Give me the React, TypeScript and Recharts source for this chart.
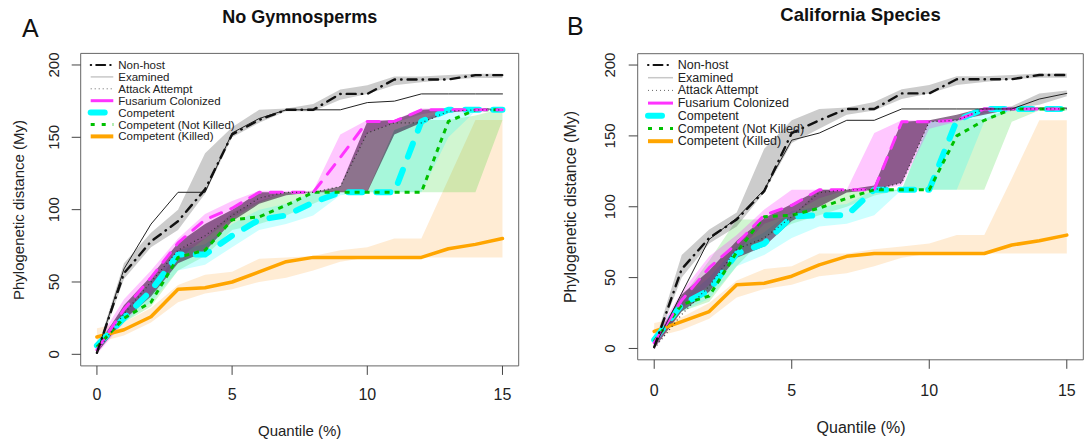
import { ComposedChart, Line, Area, XAxis, YAxis, ReferenceArea } from "recharts";

// ── Data ─────────────────────────────────────────────────────────────────────

const quantiles = [0, 1, 2, 3, 4, 5, 6, 7, 8, 9, 10, 11, 12, 13, 14, 15];
const xTicks = [0, 5, 10, 15];
const yTicks = [0, 50, 100, 150, 200];

const legendLabels = [
  "Non-host",
  "Examined",
  "Attack Attempt",
  "Fusarium Colonized",
  "Competent",
  "Competent (Not Killed)",
  "Competent (Killed)",
];

// Panel A — No Gymnosperms
const nonHostA = [1, 56, 78, 92, 114, 152, 162, 169, 169, 180, 180, 190, 190, 190, 193, 193];
const examinedA = [1, 59, 90, 112, 112, 153, 163, 169, 169, 169, 174, 175, 180, 180, 180, 180];
const attackA = [2, 28, 50, 72, 82, 96, 108, 112, 112, 116, 153, 160, 160, 168, 169, 169];
const fusariumA = [3, 31, 53, 77, 93, 101, 112, 112, 112, 136, 161, 161, 169, 169, 169, 169];
const competentA = [6, 25, 44, 69, 69, 82, 93, 96, 105, 112, 112, 112, 161, 169, 169, 169];
const notKilledA = [5, 25, 36, 67, 72, 93, 95, 103, 112, 112, 112, 112, 112, 161, 169, 169];
const killedA = [12, 17, 26, 45, 46, 50, 57, 64, 67, 67, 67, 67, 67, 73, 76, 80];

const nonHostLoA = [0, 52, 74, 86, 111, 150, 160, 168, 168, 176, 180, 186, 188, 190, 191, 191];
const nonHostHiA = [3, 63, 84, 100, 139, 157, 169, 170, 173, 183, 186, 192, 192, 193, 194, 194];
const examinedLoA = [1, 59, 90, 112, 112, 153, 163, 169, 169, 169, 174, 175, 180, 180, 180, 180];
const examinedHiA = [1, 59, 90, 112, 112, 153, 163, 169, 169, 169, 174, 175, 180, 180, 180, 180];
const attackLoA = [1, 24, 40, 63, 71, 92, 104, 110, 112, 112, 112, 152, 160, 167, 169, 169];
const attackHiA = [5, 34, 54, 77, 90, 100, 112, 112, 112, 116, 161, 162, 169, 170, 170, 170];
const fusariumLoA = [0, 22, 42, 66, 80, 94, 105, 112, 112, 116, 153, 160, 166, 169, 169, 169];
const fusariumHiA = [8, 38, 58, 80, 97, 106, 113, 113, 113, 152, 162, 162, 170, 170, 170, 170];
const competentLoA = [3, 22, 36, 58, 62, 74, 86, 90, 96, 110, 112, 112, 112, 150, 168, 168];
const competentHiA = [9, 30, 50, 72, 76, 90, 100, 104, 112, 112, 112, 155, 162, 170, 170, 170];
const notKilledLoA = [3, 22, 33, 58, 68, 86, 90, 96, 104, 112, 112, 112, 112, 112, 112, 162];
const notKilledHiA = [8, 30, 42, 72, 80, 98, 106, 112, 113, 113, 113, 155, 162, 162, 165, 170];
const killedLoA = [8, 13, 22, 36, 42, 45, 50, 53, 58, 64, 67, 67, 67, 67, 67, 67];
const killedHiA = [18, 22, 32, 48, 55, 57, 66, 67, 68, 72, 74, 80, 80, 121, 162, 162];

// Panel B — California Species
const nonHostB = [1, 56, 78, 91, 111, 152, 161, 169, 169, 180, 180, 190, 190, 190, 193, 193];
const examinedB = [1, 39, 77, 92, 112, 147, 152, 161, 161, 169, 169, 169, 169, 169, 176, 180];
const attackB = [0, 24, 44, 70, 78, 93, 110, 112, 112, 117, 160, 161, 169, 169, 169, 169];
const fusariumB = [4, 34, 57, 74, 94, 101, 112, 112, 112, 160, 160, 161, 169, 169, 169, 169];
const competentB = [6, 31, 41, 67, 74, 93, 94, 94, 112, 112, 112, 161, 169, 169, 169, 169];
const notKilledB = [5, 31, 37, 68, 93, 94, 99, 106, 112, 112, 112, 150, 161, 169, 169, 169];
const killedB = [12, 19, 26, 45, 46, 51, 59, 65, 67, 67, 67, 67, 67, 73, 76, 80];

const nonHostLoB = [0, 50, 74, 86, 110, 145, 155, 165, 168, 176, 180, 186, 188, 190, 191, 191];
const nonHostHiB = [3, 66, 84, 96, 141, 161, 169, 170, 174, 183, 186, 192, 192, 193, 194, 194];
const examinedLoB = [1, 39, 77, 92, 112, 147, 152, 161, 161, 169, 169, 169, 169, 169, 172, 178];
const examinedHiB = [1, 39, 77, 92, 112, 147, 152, 161, 161, 169, 169, 169, 169, 171, 180, 182];
const attackLoB = [0, 26, 40, 64, 72, 90, 100, 110, 112, 117, 160, 161, 165, 169, 169, 169];
const attackHiB = [4, 38, 55, 76, 92, 102, 112, 112, 115, 160, 161, 165, 170, 170, 170, 170];
const fusariumLoB = [0, 28, 45, 68, 88, 95, 106, 112, 112, 115, 155, 160, 166, 169, 169, 169];
const fusariumHiB = [8, 40, 65, 80, 98, 112, 112, 112, 152, 161, 161, 162, 170, 170, 170, 170];
const competentLoB = [3, 26, 35, 58, 66, 78, 86, 88, 94, 112, 112, 112, 160, 168, 168, 168];
const competentHiB = [9, 34, 50, 72, 82, 97, 100, 102, 112, 112, 160, 162, 170, 170, 170, 170];
const notKilledLoB = [3, 26, 33, 58, 78, 88, 94, 100, 108, 112, 112, 112, 112, 160, 168, 168];
const notKilledHiB = [8, 36, 62, 91, 91, 93, 112, 112, 112, 112, 160, 162, 162, 170, 170, 170];
const killedLoB = [8, 13, 21, 36, 42, 45, 51, 53, 58, 64, 67, 67, 67, 67, 67, 67];
const killedHiB = [18, 22, 32, 48, 56, 58, 67, 67, 70, 72, 74, 80, 80, 120, 161, 161];

// ── Styles ───────────────────────────────────────────────────────────────────

const FONT = "'Liberation Sans', Arial, sans-serif";

const BANDS = [
  { key: "killed", fill: "#ff8c00", opacity: 0.17 },
  { key: "notKilled", fill: "#00cd00", opacity: 0.18 },
  { key: "competent", fill: "#00ffff", opacity: 0.2 },
  { key: "fusarium", fill: "#ff00ff", opacity: 0.22 },
  { key: "attack", fill: "#300030", opacity: 0.55 },
  { key: "examined", fill: "#000000", opacity: 0.2 },
  { key: "nonHost", fill: "#000000", opacity: 0.2 },
];

const LINES = [
  { key: "killed", stroke: "#ffa500", width: 3.5, dash: undefined, cap: "round" },
  { key: "competent", stroke: "#00ffff", width: 6, dash: "14 14", cap: "round" },
  { key: "notKilled", stroke: "#00c000", width: 3, dash: "5 5", cap: "butt" },
  { key: "fusarium", stroke: "#ff33ff", width: 3, dash: "12 10", cap: "round" },
  { key: "examined", stroke: "#222222", width: 1, dash: undefined, cap: "round" },
  { key: "nonHost", stroke: "#111111", width: 2.4, dash: "9 6 0.5 6", cap: "round" },
  { key: "attack", stroke: "#333333", width: 1.2, dash: "1 3", cap: "butt" },
];

// legend samples, same order as legendLabels
const LEGEND_STYLES = [
  { stroke: "#111", width: 2, dash: "0.5 5 9 5", cap: "round" },
  { stroke: "#c8c8c8", width: 1.5, dash: undefined, cap: "butt" },
  { stroke: "#666", width: 1, dash: "1 3", cap: "butt" },
  { stroke: "#ff33ff", width: 3, dash: undefined, cap: "butt" },
  { stroke: "#00ffff", width: 6, dash: "14 30", cap: "round" },
  { stroke: "#00c000", width: 3, dash: "4 7", cap: "butt" },
  { stroke: "#ffa500", width: 4, dash: undefined, cap: "butt" },
];

// ── Helpers ──────────────────────────────────────────────────────────────────

type Arr = number[];

function buildRows(series: Record<string, Arr>, bands: Record<string, [Arr, Arr]>) {
  return quantiles.map((q, i) => {
    const row: any = { q };
    for (const k in series) row[k] = series[k][i];
    for (const k in bands) row[k + "Band"] = [bands[k][0][i], bands[k][1][i]];
    return row;
  });
}

const dataA = buildRows(
  { nonHost: nonHostA, examined: examinedA, attack: attackA, fusarium: fusariumA, competent: competentA, notKilled: notKilledA, killed: killedA },
  {
    nonHost: [nonHostLoA, nonHostHiA], examined: [examinedLoA, examinedHiA], attack: [attackLoA, attackHiA],
    fusarium: [fusariumLoA, fusariumHiA], competent: [competentLoA, competentHiA],
    notKilled: [notKilledLoA, notKilledHiA], killed: [killedLoA, killedHiA],
  }
);

const dataB = buildRows(
  { nonHost: nonHostB, examined: examinedB, attack: attackB, fusarium: fusariumB, competent: competentB, notKilled: notKilledB, killed: killedB },
  {
    nonHost: [nonHostLoB, nonHostHiB], examined: [examinedLoB, examinedHiB], attack: [attackLoB, attackHiB],
    fusarium: [fusariumLoB, fusariumHiB], competent: [competentLoB, competentHiB],
    notKilled: [notKilledLoB, notKilledHiB], killed: [killedLoB, killedHiB],
  }
);

const makeXTick = (dy: number) => (props: any) => (
  <text x={props.x} y={props.y + dy} textAnchor="middle" fontSize={16} fill="#222" fontFamily={FONT}>
    {props.payload.value}
  </text>
);

const makeYTick = (dx: number) => (props: any) => {
  const cx = props.x - dx;
  return (
    <text
      x={cx} y={props.y} transform={`rotate(-90 ${cx} ${props.y})`}
      textAnchor="middle" dominantBaseline="central" fontSize={15} fill="#222" fontFamily={FONT}
    >
      {props.payload.value}
    </text>
  );
};

// ── Panel ────────────────────────────────────────────────────────────────────

type PanelProps = {
  data: any[];
  left: number;
  width: number;
  yAxisWidth: number;
  margin: { top: number; right: number; left: number; bottom: number };
  xTickDy: number;
  yTickDx: number;
};

function Panel({ data, left, width, yAxisWidth, margin, xTickDy, yTickDx }: PanelProps) {
  return (
    <div style={{ position: "absolute", left, top: 0 }}>
      <ComposedChart width={width} height={444} data={data} margin={margin}>
        <XAxis
          dataKey="q" type="number" domain={[-0.6, 15.6]} ticks={xTicks} allowDataOverflow
          axisLine={false} tickLine={{ stroke: "#444" }} tickSize={9} tickMargin={2} height={40}
          tick={makeXTick(xTickDy)} interval={0}
        />
        <YAxis
          type="number" domain={[-8, 208]} ticks={yTicks} allowDataOverflow width={yAxisWidth}
          axisLine={false} tickLine={{ stroke: "#444" }} tickSize={9} tickMargin={2}
          tick={makeYTick(yTickDx)} interval={0}
        />
        {BANDS.map((b) => (
          <Area
            key={b.key} dataKey={b.key + "Band"} type="linear" stroke="none"
            fill={b.fill} fillOpacity={b.opacity} isAnimationActive={false} dot={false} activeDot={false}
          />
        ))}
        {LINES.map((l) => (
          <Line
            key={l.key} dataKey={l.key} type="linear" stroke={l.stroke} strokeWidth={l.width}
            strokeDasharray={l.dash} strokeLinecap={l.cap as any} strokeLinejoin="round"
            dot={false} activeDot={false} isAnimationActive={false}
          />
        ))}
        <ReferenceArea x1={-0.6} x2={15.6} y1={-8} y2={208} fill="none" stroke="#666" strokeWidth={1} ifOverflow="visible" />
      </ComposedChart>
    </div>
  );
}

function Legend({ x0, x1, tx, y0, dy, fontSize }: { x0: number; x1: number; tx: number; y0: number; dy: number; fontSize: number }) {
  return (
    <g>
      {legendLabels.map((label, i) => {
        const s = LEGEND_STYLES[i];
        const y = y0 + i * dy;
        return (
          <g key={label}>
            <line
              x1={x0} x2={x1} y1={y} y2={y} stroke={s.stroke} strokeWidth={s.width}
              strokeDasharray={s.dash} strokeLinecap={s.cap as any}
            />
            <text x={tx} y={y} dominantBaseline="central" fontSize={fontSize} fill="#222" fontFamily={FONT}>
              {label}
            </text>
          </g>
        );
      })}
    </g>
  );
}

// ── App ──────────────────────────────────────────────────────────────────────

export default function App() {
  return (
    <div style={{ position: "absolute", left: 0, top: 0, width: 1084, height: 444, background: "#fff", overflow: "hidden" }}>
      <Panel
        data={dataA} left={0} width={540} yAxisWidth={80.7}
        margin={{ top: 53.4, right: 21.3, left: 0, bottom: 38.1 }}
        xTickDy={23} yTickDx={16}
      />
      <Panel
        data={dataB} left={545} width={539} yAxisWidth={92.7}
        margin={{ top: 53.7, right: 0.7, left: 0, bottom: 44.2 }}
        xTickDy={25} yTickDx={17}
      />
      <svg width={1084} height={444} style={{ position: "absolute", left: 0, top: 0, pointerEvents: "none" }}>
        <text x={22} y={37} fontSize={25} fill="#111" fontFamily={FONT}>A</text>
        <text x={567} y={35} fontSize={25} fill="#111" fontFamily={FONT}>B</text>
        <text x={299.7} y={23} textAnchor="middle" fontSize={18} fontWeight="bold" fill="#111" fontFamily={FONT}>No Gymnosperms</text>
        <text x={860.5} y={21} textAnchor="middle" fontSize={18.5} fontWeight="bold" fill="#111" fontFamily={FONT}>California Species</text>
        <text x={299.7} y={436} textAnchor="middle" fontSize={15} fill="#222" fontFamily={FONT}>Quantile (%)</text>
        <text x={861} y={433} textAnchor="middle" fontSize={16} fill="#222" fontFamily={FONT}>Quantile (%)</text>
        <text x={18} y={210} transform="rotate(-90 18 210)" textAnchor="middle" dominantBaseline="central" fontSize={15} fill="#222" fontFamily={FONT}>
          Phylogenetic distance (My)
        </text>
        <text x={570} y={207} transform="rotate(-90 570 207)" textAnchor="middle" dominantBaseline="central" fontSize={16} fill="#222" fontFamily={FONT}>
          Phylogenetic distance (My)
        </text>
        <Legend x0={90.7} x1={113.3} tx={118.3} y0={65} dy={11.9} fontSize={11.5} />
        <Legend x0={648} x1={673} tx={677.7} y0={65} dy={12.7} fontSize={12.5} />
      </svg>
    </div>
  );
}
